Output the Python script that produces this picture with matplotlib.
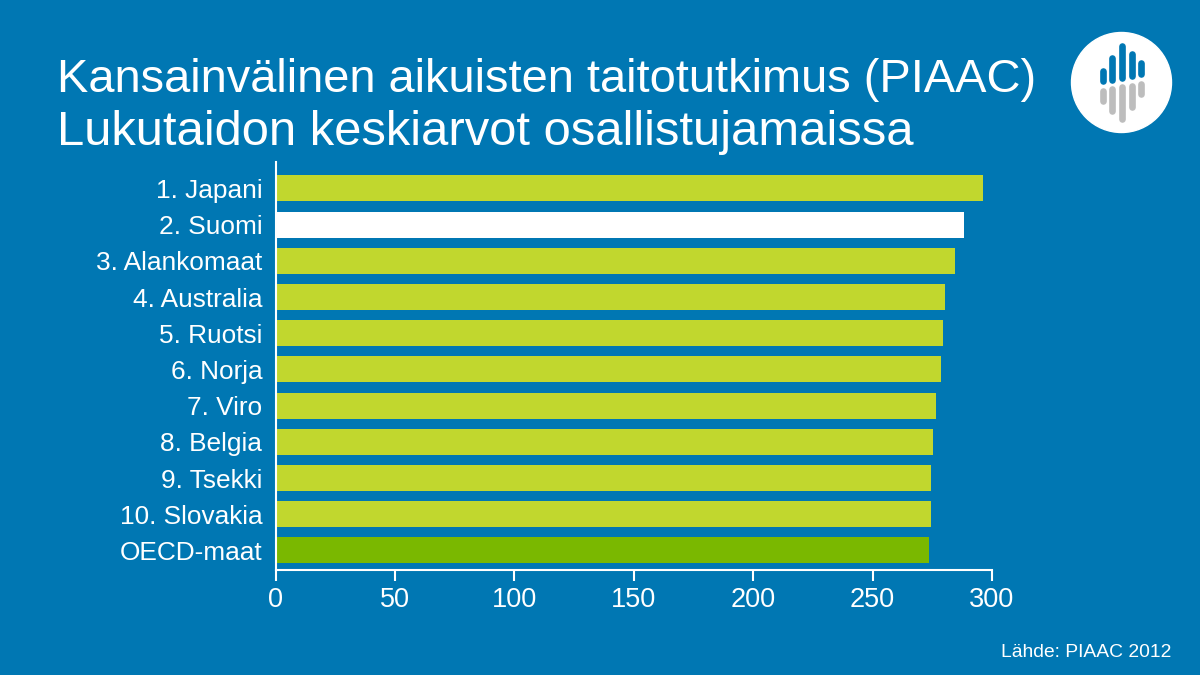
import matplotlib
matplotlib.use('Agg')
import matplotlib.pyplot as plt
from matplotlib.patches import Circle

plt.rcParams['font.family'] = ['Liberation Sans', 'DejaVu Sans']

BLUE = '#0077b3'
LIME = '#c1d72e'
GREEN = '#7ab800'
WHITE = '#ffffff'

countries = ['1. Japani', '2. Suomi', '3. Alankomaat', '4. Australia', '5. Ruotsi', '6. Norja',
             '7. Viro', '8. Belgia', '9. Tsekki', '10. Slovakia', 'OECD-maat']
scores = [296.4, 288.4, 284.4, 280.4, 279.6, 278.5, 276.6, 275.5, 274.6, 274.6, 273.5]
bar_colors = [LIME, WHITE] + [LIME] * 8 + [GREEN]
xticks = [0, 50, 100, 150, 200, 250, 300]

W, H = 1200, 675
fig = plt.figure(figsize=(12, 6.75), dpi=100, facecolor=BLUE)

# chart area, pixel positions from the reference
left, right, top, bottom = 275.5, 992, 162, 570
ax = fig.add_axes([left / W, 1 - bottom / H, (right - left) / W, (bottom - top) / H], facecolor=BLUE)
ax.barh(range(len(countries)), scores, height=0.72, color=bar_colors)
ax.set_xlim(0, 300)
ax.set_ylim(10.54, -0.73)
ax.set_xticks(xticks)
ax.set_yticks(range(len(countries)))
ax.set_yticklabels(countries)
ax.tick_params(axis='y', length=0, pad=9.5, labelsize=18.9, labelcolor=WHITE)
ax.tick_params(axis='x', length=8, width=1.5, color=WHITE, pad=4.5, labelsize=19.5, labelcolor=WHITE)
for side in ['top', 'right']:
    ax.spines[side].set_visible(False)
for side in ['left', 'bottom']:
    ax.spines[side].set_color(WHITE)
    ax.spines[side].set_linewidth(1.5)

fig.text(57 / W, 1 - 92 / H, 'Kansainvälinen aikuisten taitotutkimus (PIAAC)', color=WHITE,
         fontsize=33.8, va='baseline', ha='left')
fig.text(57 / W, 1 - 145 / H, 'Lukutaidon keskiarvot osallistujamaissa', color=WHITE,
         fontsize=35.3, va='baseline', ha='left')
fig.text(1171 / W, 1 - 657 / H, 'Lähde: PIAAC 2012', color=WHITE, fontsize=13.9, va='baseline', ha='right')

# logo drawn in pixel coordinates
logo = fig.add_axes([0, 0, 1, 1])
logo.set_xlim(0, W)
logo.set_ylim(H, 0)
logo.axis('off')
logo.patch.set_alpha(0)
logo.add_patch(Circle((1121.5, 82.5), 50, color=WHITE))
stem_x = [1102.7, 1112.3, 1122, 1131.7, 1140.7]
blue_y = [(71, 81), (58.3, 79.5), (45.6, 78), (54.3, 76), (63.3, 74)]
gray_y = [(90.5, 101), (89, 110.7), (87.3, 119.4), (85.6, 106.7), (84, 94)]
for x, (y0, y1), (y2, y3) in zip(stem_x, blue_y, gray_y):
    logo.plot([x, x], [y0, y1], color=BLUE, lw=4.8, solid_capstyle='round')
    logo.plot([x, x], [y2, y3], color='#bdbdbd', lw=4.8, solid_capstyle='round')

fig.savefig('out.png', dpi=100, facecolor=BLUE)
